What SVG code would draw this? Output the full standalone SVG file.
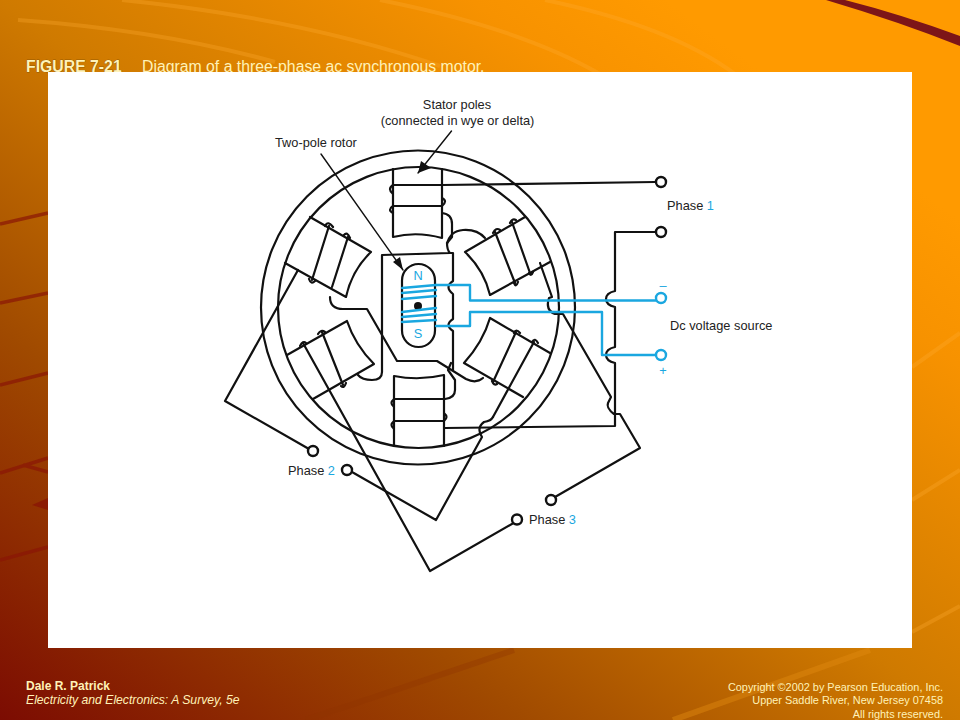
<svg xmlns="http://www.w3.org/2000/svg" width="960" height="720" viewBox="0 0 960 720">
<style>
.w{fill:none;stroke:#111;stroke-width:2.2;stroke-linejoin:round;stroke-linecap:round}
.t{fill:none;stroke:#111;stroke-width:1.4;stroke-linecap:round}
.b{fill:none;stroke:#1aa7e0;stroke-width:2.4;stroke-linejoin:round;stroke-linecap:round}
.c{fill:#fff;stroke:#111;stroke-width:2.4}
.cb{fill:#fff;stroke:#1aa7e0;stroke-width:2.4}
.l{font:12.8px "Liberation Sans",Arial,sans-serif;fill:#222}
.lb{fill:#1aa7e0}
.f{font-family:"Liberation Sans",Arial,sans-serif;fill:#fff2b8}
.lt{fill:none;stroke:#ffad33;stroke-opacity:.3;stroke-width:4}
.dk{fill:none;stroke:#8a1505;stroke-opacity:.7;stroke-width:3.5}
</style>
<defs>
<linearGradient id="bg" gradientUnits="userSpaceOnUse" x1="800" y1="100" x2="215" y2="880">
<stop offset="0" stop-color="#ff9a00"/>
<stop offset=".12" stop-color="#f79200"/>
<stop offset=".41" stop-color="#cf7a00"/>
<stop offset=".68" stop-color="#a04a00"/>
<stop offset="1" stop-color="#7c0c02"/>
</linearGradient>
</defs>
<rect id="background" width="960" height="720" fill="url(#bg)"/>
<g id="streaks">
<path class="lt" d="M18 20Q160 30 275 62"/>
<path class="lt" d="M122 0Q300 18 440 66"/>
<path class="lt" d="M380 0Q520 28 600 74"/>
<path class="lt" d="M545 0Q670 26 735 74"/>
<path class="dk" d="M0 224L48 213M0 303L48 293M0 385L48 373M0 473L48 458M23 465L48 472M0 560L48 547"/>
<path d="M32 505L48 498V510Z" fill="#8a1505" fill-opacity=".8"/>
<path class="lt" d="M912 367L960 333M912 500L960 470M912 632L960 606"/>
<path d="M306 720L514 650" fill="none" stroke="#8f3500" stroke-opacity=".35" stroke-width="6"/>
<path d="M673 720L870 650" fill="none" stroke="#e08a10" stroke-opacity=".45" stroke-width="6"/>
<path d="M826 0H845Q900 14 960 36V46Q900 22 826 0Z" fill="#7d1518"/>
</g>
<g id="title" class="f" font-size="15.8">
<text x="26" y="72" font-weight="bold" style="paint-order:stroke" stroke="#5a3a00" stroke-width=".5">FIGURE 7-21</text>
<text x="142" y="72">Diagram of a three-phase ac synchronous motor.</text>
</g>
<rect id="panel" x="48" y="72" width="864" height="576" fill="#fff"/>
<g id="footer" class="f">
<text x="26" y="690" font-size="12" font-weight="bold">Dale R. Patrick</text>
<text x="26" y="704" font-size="12.2" font-style="italic">Electricity and Electronics: A Survey, 5e</text>
<g font-size="10.9" text-anchor="end">
<text x="943" y="691">Copyright ©2002 by Pearson Education, Inc.</text>
<text x="943" y="704">Upper Saddle River, New Jersey 07458</text>
<text x="943" y="718">All rights reserved.</text>
</g>
</g>
<g id="stator">
<circle class="w" cx="418" cy="307.5" r="157"/>
<circle class="w" cx="418.500" cy="307.5" r="140.5"/>
</g>
<g id="pole-top">
<path class="w" d="M393 169V237Q417 231 442 238V169"/>
<path class="w" d="M393 185H442M393 206H442"/>
<path class="w" d="M393 185Q387 189 393 194M393 206Q387 210 393 213M442 198Q448 201 442 206"/>
</g>
<g id="pole-bottom">
<path class="w" d="M394 446V376Q419 381 444 375V446"/>
<path class="w" d="M394 399H444M394 421H444"/>
<path class="w" d="M394 399Q389 403 394 407M394 421Q389 425 394 429M444 413Q449 417 444 421"/>
</g>
<g id="pole-upper-left">
<path class="w" d="M310 217L371 252Q352 270 346 297L285 263"/>
<path class="w" d="M329 226L312 280M348 237L332 287"/>
<path class="w" d="M325 226Q328 220 333 227M344 235Q347 231 350 238M309 279Q311 285 315 281"/>
</g>
<g id="pole-upper-right">
<path class="w" d="M525 217L465 252Q484 270 490 295L550 262"/>
<path class="w" d="M495 232L515 283M512 222L530 273"/>
<path class="w" d="M493 233Q496 227 500 230M510 223Q512 218 516 220M514 283Q516 288 518 282M529 273Q531 277 533 272"/>
</g>
<g id="pole-lower-left">
<path class="w" d="M287 355L347 321Q355 345 374 364L313 399"/>
<path class="w" d="M322 332L343 385"/>
<path class="w" d="M300 346Q303 340 306 343M318 334Q321 329 325 332M341 386Q344 389 346 383"/>
</g>
<g id="pole-lower-right">
<path class="w" d="M550 353L490 318Q483 342 464 363L523 397"/>
<path class="w" d="M516 332L493 382"/>
<path class="w" d="M514 333Q516 328 520 333M532 342Q535 337 538 343M492 381Q494 386 497 384"/>
</g>
<g id="rotor">
<rect class="w" x="402" y="264" width="33" height="83" rx="16.5"/>
<circle cx="418" cy="306" r="4" fill="#111"/>
<path d="M416 306h4v5h-4z" fill="#111"/>
<text class="l lb" x="418" y="280" text-anchor="middle" font-size="13">N</text>
<text class="l lb" x="418" y="338" text-anchor="middle" font-size="13">S</text>
</g>
<g id="connectors">
<path class="w" d="M442 185L655 182"/>
<path class="w" d="M656 232H615V291Q606 293 606 299Q606 305 615 307V347Q606 349 606 355Q606 361 615 363V426L445 428"/>
<path class="w" d="M442 213Q452 214 452 224V237L447 243Q447 250 450 253L382 255V372Q382 380 372 380Q362 380 358 375"/>
<path class="w" d="M447 244Q450 231 463 230Q477 229 485 238"/>
<path class="w" d="M450 253H453V281Q444 287 453 294V319Q444 325 453 331V370"/>
<path class="w" d="M330 297Q330 309 343 309H367L397 361H437L466 379Q476 384 483 378"/>
<path class="w" d="M445 399Q455 398 455 390V380L448 370L451 363"/>
<path class="w" d="M303 343L430 571L517 521"/>
<path class="w" d="M352 472L436 520L482 437Q476 428 484 422Q491 421 493 417"/>
<path class="w" d="M534 342L493 417"/>
<path class="w" d="M309 449L225 401L298 270"/>
<path class="w" d="M555 497L640 448L620 414H614Q606 408 608 403L611 397L563 314H555Q545 310 549 298L552 297L540 263"/>
</g>
<g id="blue-wiring">
<path class="b" d="M402 288L436 285M402 293L436 290M402 299L436 296M402 312L436 308M402 317L436 314M402 322L436 320"/>
<path class="b" d="M436 285H470V300.5H656M436 326H470V312H602V355H656"/>
<circle class="cb" cx="661" cy="298" r="5"/>
<circle class="cb" cx="661" cy="355" r="5"/>
</g>
<g id="terminals">
<circle class="c" cx="661" cy="182" r="5"/>
<circle class="c" cx="661" cy="232" r="5"/>
<circle class="c" cx="313" cy="451" r="5"/>
<circle class="c" cx="347" cy="470" r="5"/>
<circle class="c" cx="551" cy="500" r="5"/>
<circle class="c" cx="517" cy="519.5" r="5"/>
</g>
<g id="callouts">
<path class="t" d="M451.5 131L418 173"/>
<path d="M418 173L421 161L431 168Z" fill="#111"/>
<path class="t" d="M321 154L403 270"/>
<path d="M403 270L393 262L400 257Z" fill="#111"/>
</g>
<g id="labels">
<text class="l" x="457" y="109" text-anchor="middle">Stator poles</text>
<text class="l" x="457.500" y="125" text-anchor="middle">(connected in wye or delta)</text>
<text class="l" x="275" y="147">Two-pole rotor</text>
<text class="l" x="667" y="210">Phase <tspan class="lb">1</tspan></text>
<text class="l" x="670" y="330">Dc voltage source</text>
<text class="l" x="288" y="475">Phase <tspan class="lb">2</tspan></text>
<text class="l" x="529" y="524">Phase <tspan class="lb">3</tspan></text>
<text class="l lb" x="663" y="290" text-anchor="middle">–</text>
<text class="l lb" x="663" y="375" text-anchor="middle" font-size="11">+</text>
</g>
</svg>
